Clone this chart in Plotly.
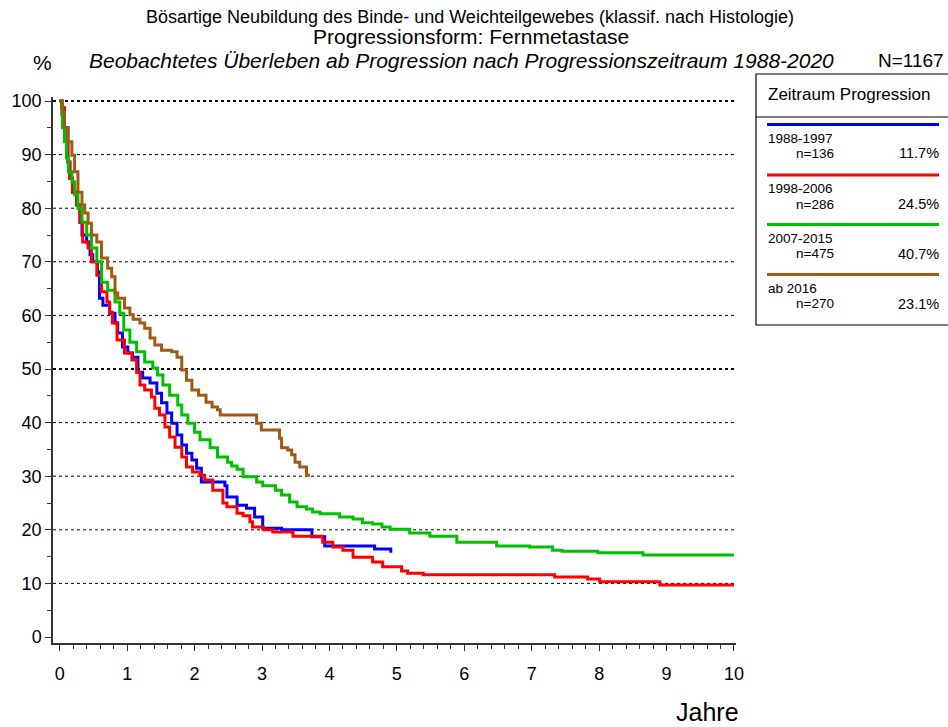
import plotly.graph_objects as go

# ---------------- data ----------------
t_1988 = [0, 0.03, 0.07, 0.12, 0.15, 0.19, 0.25, 0.30, 0.33, 0.40, 0.45, 0.49, 0.56, 0.59, 0.64, 0.74,
          0.82, 0.86, 0.93, 1.01, 1.08, 1.16, 1.23, 1.34, 1.44, 1.51, 1.59, 1.66, 1.74, 1.81, 1.88,
          1.96, 2.03, 2.10, 2.45, 2.48, 2.63, 2.77, 2.89, 3.01, 3.29, 3.74, 3.93, 4.67, 4.91]
s_1988 = [100, 98.7, 95, 88.6, 85.6, 83, 80.6, 77.4, 75, 73.7, 71.3, 70, 68.1, 63.2, 61.9, 60.4,
          58.6, 56.7, 54.1, 53, 52.2, 49.4, 48.3, 47.4, 45.5, 43.7, 41.8, 39.9, 37.7, 35.8, 34.3,
          33, 31.5, 28.9, 28.2, 26.1, 24.6, 24.0, 22.4, 20.3, 20.0, 18.7, 17.0, 16.4, 15.7]

t_1998 = [0, 0.03, 0.07, 0.12, 0.15, 0.19, 0.25, 0.30, 0.34, 0.42, 0.47, 0.55, 0.62, 0.70, 0.74, 0.78,
          0.85, 0.96, 1.07, 1.14, 1.19, 1.26, 1.36, 1.41, 1.48, 1.56, 1.63, 1.71, 1.81, 1.88, 1.97,
          2.08, 2.15, 2.27, 2.42, 2.48, 2.63, 2.72, 2.82, 2.86, 3.02, 3.16, 3.46, 3.90, 4.05, 4.20,
          4.35, 4.64, 4.79, 5.07, 5.16, 5.39, 7.34, 7.83, 8.01, 8.90, 10.0]
s_1998 = [100, 98.7, 95, 88.6, 85.6, 83, 80.6, 77.4, 73.7, 72.6, 70, 67.5, 64.4, 62.5, 60.6, 58.6,
          55.4, 53, 51.7, 49.4, 47, 46.1, 44.8, 42.7, 41.4, 39.2, 37.3, 35.4, 33.6, 31.7, 30.8,
          30.2, 29.3, 27.4, 25.0, 24.3, 23.1, 22.6, 21.5, 20.5, 20.0, 19.6, 18.8, 17.7, 16.8, 16.2,
          14.9, 14.0, 13.1, 12.3, 11.9, 11.6, 11.2, 10.8, 10.3, 9.7, 9.7]

t_2007 = [0, 0.03, 0.04, 0.07, 0.10, 0.13, 0.18, 0.22, 0.27, 0.33, 0.40, 0.47, 0.55, 0.62, 0.71, 0.82,
          0.89, 0.95, 1.04, 1.14, 1.26, 1.38, 1.45, 1.53, 1.63, 1.75, 1.81, 1.90, 2.00, 2.08, 2.23,
          2.34, 2.49, 2.55, 2.63, 2.72, 2.92, 3.01, 3.20, 3.29, 3.41, 3.52, 3.66, 3.75, 3.86, 4.15,
          4.35, 4.49, 4.64, 4.78, 4.90, 5.19, 5.49, 5.89, 6.48, 6.97, 7.31, 7.45, 7.98, 8.65, 10.0]
s_2007 = [100, 97.4, 95, 92.4, 89.4, 86.8, 84.9, 82.5, 80, 77.4, 75, 72.6, 70, 66.2, 64.7, 62.5,
          60.4, 57.3, 55, 53.2, 51.3, 50.2, 48.9, 47, 45.1, 43.3, 41.4, 39.9, 38.2, 36.8, 35.3,
          33.6, 32.6, 31.9, 31.3, 29.9, 28.9, 28.2, 27.4, 26.5, 25.2, 24.3, 23.9, 23.3, 23.0, 22.4,
          22.0, 21.3, 21.1, 20.5, 20.1, 19.4, 18.8, 17.7, 17.0, 16.8, 16.2, 16.0, 15.7, 15.3, 15.3]

t_2016 = [0, 0.04, 0.07, 0.12, 0.18, 0.22, 0.27, 0.33, 0.37, 0.42, 0.47, 0.55, 0.62, 0.71, 0.77, 0.82,
          0.86, 0.96, 1.04, 1.09, 1.19, 1.26, 1.34, 1.41, 1.51, 1.66, 1.74, 1.81, 1.88, 1.96, 2.06,
          2.17, 2.26, 2.34, 2.38, 2.92, 2.99, 3.26, 3.29, 3.38, 3.44, 3.49, 3.56, 3.66, 3.71]
s_2016 = [100, 97.9, 95, 92.4, 89.9, 86.8, 83, 80.6, 79.1, 77.2, 75, 73.7, 70.7, 68.8, 67.2, 64.2,
          63.2, 61.4, 60.1, 59.3, 58.6, 57.6, 55.8, 54.5, 53.5, 53.2, 52.2, 49.8, 47.9, 46.1, 45.1,
          43.8, 42.9, 42.4, 41.4, 39.9, 38.6, 37.1, 35.3, 34.9, 34.0, 32.6, 31.7, 30.2, 30.2]

groups = ["1988-1997", "1998-2006", "2007-2015", "ab 2016"]
group_n = ["n=136", "n=286", "n=475", "n=270"]
group_pct = ["11.7%", "24.5%", "40.7%", "23.1%"]
colors = ["#0000FF", "#FF0000", "#00C000", "#A05A14"]
series_t = [t_1988, t_1998, t_2007, t_2016]
series_s = [s_1988, s_1998, s_2007, s_2016]

grid_vals = [10, 20, 30, 40, 60, 70, 80, 90]
bold_grid_vals = [50, 100]
x_ticks = list(range(0, 11))
y_ticks = list(range(0, 101, 10))

FONT = "Arial, Liberation Sans, sans-serif"

# ---------------- layout geometry (pixels) ----------------
W, H = 948, 727
L, R, T, B = 53, 736, 97, 643


def px(x):
    return (x - L) / (R - L)


def py(y):
    return (B - y) / (B - T)


fig = go.Figure()

for t, s, c, g in zip(series_t, series_s, colors, groups):
    fig.add_trace(go.Scatter(x=t, y=s, mode="lines", line=dict(color=c, width=3, shape="hv"),
                             name=g, showlegend=False, hoverinfo="skip"))

shapes = []
for v in grid_vals:
    shapes.append(dict(type="line", xref="x", yref="y", x0=-0.1, x1=10, y0=v, y1=v,
                       line=dict(color="black", width=1, dash="dot"), layer="below"))
for v in bold_grid_vals:
    shapes.append(dict(type="line", xref="x", yref="y", x0=-0.1, x1=10, y0=v, y1=v,
                       line=dict(color="black", width=2.2, dash="dot"), layer="below"))

# legend box
box_l, box_r, box_t, box_b = 756, 960, 74, 325
shapes.append(dict(type="rect", xref="paper", yref="paper", x0=px(box_l), x1=px(box_r),
                   y0=py(box_b), y1=py(box_t), line=dict(color="black", width=1.2)))
shapes.append(dict(type="line", xref="paper", yref="paper", x0=px(box_l), x1=px(box_r),
                   y0=py(117), y1=py(117), line=dict(color="black", width=1)))

annotations = []
annotations.append(dict(xref="paper", yref="paper", x=px(766), y=py(94), text="Zeitraum Progression",
                        showarrow=False, xanchor="left", yanchor="middle",
                        font=dict(family=FONT, size=17, color="black")))
line_y = [124.5, 175, 224.5, 274.5]
for i, (g, n, p, c) in enumerate(zip(groups, group_n, group_pct, colors)):
    ly = line_y[i]
    shapes.append(dict(type="line", xref="paper", yref="paper", x0=px(767), x1=px(939),
                       y0=py(ly), y1=py(ly), line=dict(color=c, width=3)))
    annotations.append(dict(xref="paper", yref="paper", x=px(766), y=py(ly + 14), text=g,
                            showarrow=False, xanchor="left", yanchor="middle",
                            font=dict(family=FONT, size=13.5, color="black")))
    annotations.append(dict(xref="paper", yref="paper", x=px(794), y=py(ly + 29), text=n,
                            showarrow=False, xanchor="left", yanchor="middle",
                            font=dict(family=FONT, size=13.5, color="black")))
    annotations.append(dict(xref="paper", yref="paper", x=px(941), y=py(ly + 29), text=p,
                            showarrow=False, xanchor="right", yanchor="middle",
                            font=dict(family=FONT, size=14.5, color="black")))

# titles
annotations.append(dict(xref="paper", yref="paper", x=px(470), y=py(17),
                        text="Bösartige Neubildung des Binde- und Weichteilgewebes (klassif. nach Histologie)",
                        showarrow=False, xanchor="center", yanchor="middle",
                        font=dict(family=FONT, size=18, color="black")))
annotations.append(dict(xref="paper", yref="paper", x=px(471), y=py(37),
                        text="Progressionsform: Fernmetastase",
                        showarrow=False, xanchor="center", yanchor="middle",
                        font=dict(family=FONT, size=21, color="black")))
annotations.append(dict(xref="paper", yref="paper", x=px(87), y=py(60),
                        text="<i>Beobachtetes Überleben ab Progression nach Progressionszeitraum 1988-2020</i>",
                        showarrow=False, xanchor="left", yanchor="middle",
                        font=dict(family=FONT, size=21, color="black")))
annotations.append(dict(xref="paper", yref="paper", x=px(946), y=py(60), text="N=1167",
                        showarrow=False, xanchor="right", yanchor="middle",
                        font=dict(family=FONT, size=19, color="black")))
annotations.append(dict(xref="paper", yref="paper", x=px(42), y=py(62), text="%",
                        showarrow=False, xanchor="center", yanchor="middle",
                        font=dict(family=FONT, size=21, color="black")))
annotations.append(dict(xref="paper", yref="paper", x=px(741), y=py(712), text="Jahre",
                        showarrow=False, xanchor="right", yanchor="middle",
                        font=dict(family=FONT, size=25, color="black")))

fig.update_layout(
    width=W, height=H,
    margin=dict(l=L, r=W - R, t=T, b=H - B, pad=0),
    paper_bgcolor="white", plot_bgcolor="white",
    font=dict(family=FONT, size=16, color="black"),
    shapes=shapes, annotations=annotations,
    showlegend=False,
)
fig.update_xaxes(range=[-0.1, 10.03], tickvals=x_ticks, ticktext=[str(v) for v in x_ticks],
                 showgrid=False, zeroline=False, showline=True, linecolor="#333333", linewidth=1.5,
                 ticks="outside", ticklen=6, tickcolor="#333333", tickwidth=1,
                 ticklabelstandoff=8,
                 tickfont=dict(family=FONT, size=18, color="black"),
                 minor=dict(dtick=0.2, ticks="outside", ticklen=4, tickcolor="#333333", showgrid=False))
fig.update_yaxes(range=[-1.12, 100.75], tickvals=y_ticks, ticktext=[str(v) for v in y_ticks],
                 showgrid=False, zeroline=False, showline=True, linecolor="#333333", linewidth=1.5,
                 ticks="outside", ticklen=6, tickcolor="#333333", tickwidth=1,
                 tickfont=dict(family=FONT, size=18, color="black"),
                 minor=dict(dtick=5, ticks="outside", ticklen=4, tickcolor="#333333", showgrid=False))

fig.write_html("out.html", config={"displayModeBar": False},
               post_script="document.body.style.margin='0px';document.body.style.overflow='hidden';")
